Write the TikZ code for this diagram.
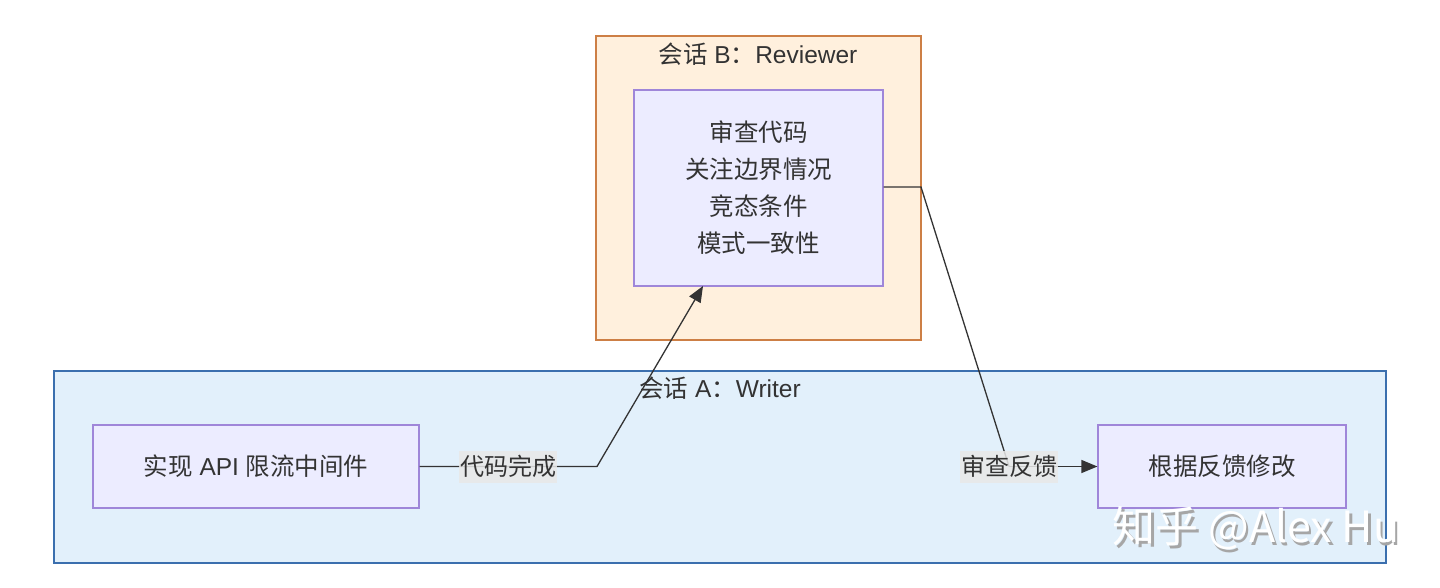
\documentclass[tikz,border=0pt]{standalone}
\usepackage{fontspec}
\setmainfont{Liberation Sans}
\newfontfamily\cjk{Noto Sans CJK SC}
\usetikzlibrary{arrows.meta}
\definecolor{edgec}{HTML}{333333}
\definecolor{nodefill}{HTML}{ECECFF}
\definecolor{nodeline}{HTML}{9F86D9}
\definecolor{revfill}{HTML}{FFF0DD}
\definecolor{revline}{HTML}{CD7F45}
\definecolor{wrifill}{HTML}{E2F0FB}
\definecolor{wriline}{HTML}{3B6FAE}
\definecolor{lblfill}{HTML}{E8E8E8}
\definecolor{txt}{HTML}{333333}
\tikzset{
  x=1pt, y=-1pt,
  cluster/.style={draw, line width=1.3pt},
  box/.style={draw=nodeline, fill=nodefill, line width=1.2pt, text=txt,
    font=\fontsize{24.5}{37}\selectfont, align=center, inner sep=0pt},
  title/.style={text=txt, font=\fontsize{24.5}{28}\selectfont, inner sep=0pt},
  lbl/.style={fill=lblfill, fill opacity=0.85, text opacity=1, text=txt,
    font=\fontsize{24}{28}\selectfont, inner sep=1pt, minimum height=32pt},
  flow/.style={draw=edgec, line width=1.3pt},
  tip/.style={-{Triangle[length=16pt,width=13pt]}}
}
\begin{document}
\begin{tikzpicture}
\useasboundingbox (0,0) rectangle (1440,587);
\fill[white] (0,0) rectangle (1440,587);

% Reviewer session
\draw[cluster, draw=revline, fill=revfill] (596,36) rectangle (921,340);
\node[title] (revtitle) at (758,54) {{\cjk 会话} B{\cjk ：}Reviewer};
\node[box, minimum width=249pt, minimum height=196pt] (review) at (758.5,188)
  {\cjk 审查代码\\\cjk 关注边界情况\\\cjk 竞态条件\\\cjk 模式一致性};

% Writer session
\draw[cluster, draw=wriline, fill=wrifill] (54,371) rectangle (1386,563);
\node[title] (writitle) at (720,388) {{\cjk 会话} A{\cjk ：}Writer};
\node[box, minimum width=326pt, minimum height=83pt] (impl) at (256,466.5)
  {{\cjk 实现} API {\cjk 限流中间件}};
\node[box, minimum width=248pt, minimum height=83pt] (revise) at (1222,466.5)
  {\cjk 根据反馈修改};

% Connectors
\coordinate (k1) at (597,466.5);
\coordinate (k2) at (921,187);
\coordinate (k3) at (1009,466.5);
\coordinate (t1) at (703,286);
\draw[flow, tip] (impl.east) -- (k1) -- (t1);
\node[lbl] (done) at (508,466.5) {\cjk 代码完成};
\draw[flow] (review.east |- k2) -- (k2) -- (k3);
\draw[flow, tip] (k3) -- (revise.west);
\node[lbl] (fb) at (1009,466.5) {\cjk 审查反馈};

% Watermark
\node[text=black!35, font=\cjk\fontsize{43}{47}\selectfont, anchor=west, inner sep=0pt]
  (wmshadow) at (1115,531) {知乎 @Alex Hu};
\node[text=white, font=\cjk\fontsize{43}{47}\selectfont, anchor=west, inner sep=0pt]
  (wm) at (1112.5,528.5) {知乎 @Alex Hu};
\end{tikzpicture}
\end{document}
